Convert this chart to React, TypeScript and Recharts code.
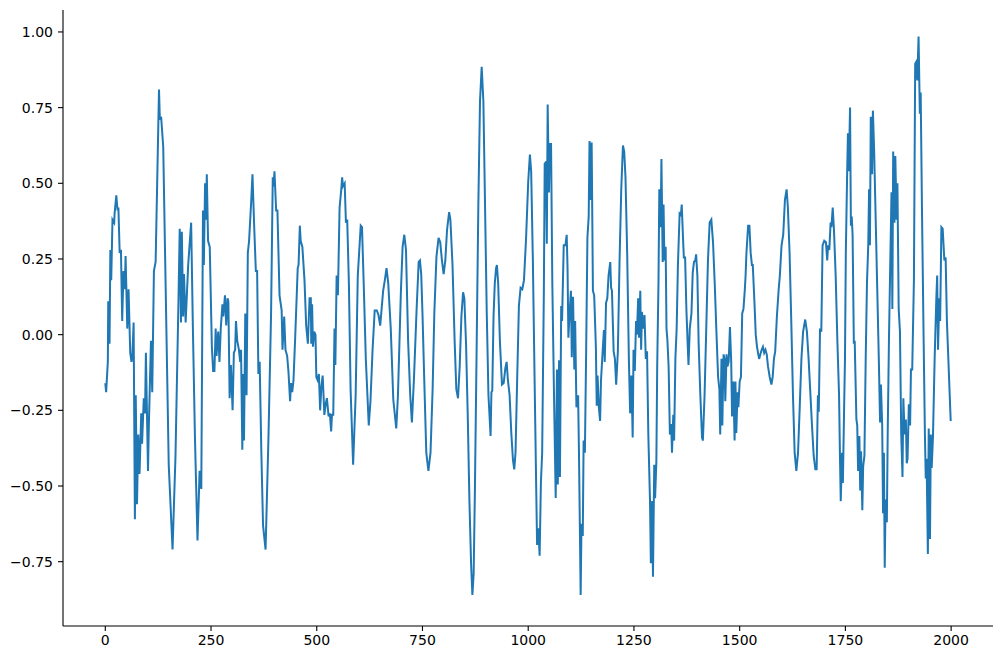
import React from "react";
import { LineChart, Line, XAxis, YAxis } from "recharts";

// [sample index, amplitude], one list per 250-sample span
const span0: [number, number][] = [
  [0, -0.16], [2, -0.19], [6, -0.09], [7, 0.11], [10, -0.03], [12, 0.28], [14, 0.18], [17, 0.38],
  [21, 0.37], [22, 0.4], [26, 0.46], [29, 0.41], [31, 0.42], [34, 0.27], [37, 0.28], [40, 0.045],
  [43, 0.21], [46, 0.15], [48, 0.26], [52, 0.02], [55, 0.15], [59, -0.06], [62, -0.09], [64, -0.07],
  [67, 0.04], [70, -0.61], [72, -0.2], [75, -0.56], [78, -0.33], [81, -0.46], [85, -0.26], [87, -0.36],
  [91, -0.21], [94, -0.26], [96, -0.06], [101, -0.45], [103, -0.3], [108, -0.02], [111, -0.19], [115, 0.21],
  [119, 0.24], [127, 0.81], [129, 0.71], [132, 0.72], [137, 0.62], [150, -0.43], [159, -0.71], [166, -0.4],
  [173, 0.11], [176, 0.35], [179, 0.04], [181, 0.34], [184, 0.06], [186, 0.2], [190, 0.04], [196, 0.23],
  [203, 0.37], [207, 0.03], [212, -0.34], [218, -0.68], [223, -0.45], [227, -0.51], [231, 0.41], [233, 0.23],
  [236, 0.5], [238, 0.38], [240, 0.53], [243, 0.31], [247, 0.29],
];

const span1: [number, number][] = [
  [252, -0.04], [255, -0.12], [258, -0.12], [261, 0.02], [263, -0.07], [267, 0.01], [270, -0.09], [273, 0.02],
  [277, 0.1], [279, 0.06], [283, 0.13], [286, 0.03], [289, 0.12], [291, 0.11], [294, -0.21], [297, -0.1],
  [301, -0.25], [304, -0.06], [307, -0.05], [309, 0.045], [312, -0.02], [316, -0.05], [319, -0.09], [321, -0.05],
  [324, -0.38], [326, -0.13], [328, -0.35], [331, 0.07], [334, -0.2], [337, 0.27], [340, 0.31], [345, 0.44],
  [348, 0.53], [352, 0.36], [356, 0.21], [359, 0.21], [362, -0.13], [365, -0.09], [369, -0.39], [373, -0.63],
  [379, -0.71], [386, -0.33], [392, 0.07], [396, 0.52], [398, 0.49], [400, 0.54], [404, 0.41], [407, 0.41],
  [412, 0.13], [417, 0.08], [419, -0.05], [423, 0.06], [426, -0.05], [430, -0.07], [433, -0.12], [437, -0.22],
  [439, -0.16], [442, -0.19], [445, -0.15], [449, -0.01], [455, 0.22], [457, 0.23], [460, 0.36], [462, 0.31],
  [466, 0.29], [471, 0.18], [475, 0.03], [479, -0.03], [483, 0.12], [486, 0.12], [487, -0.03], [489, 0.1],
  [491, -0.04], [494, 0.01], [497, 0.0],
];

const span2: [number, number][] = [
  [499, -0.14], [502, -0.15], [505, -0.13], [508, -0.25], [511, -0.17], [514, -0.135], [518, -0.265], [521, -0.23],
  [524, -0.21], [528, -0.27], [531, -0.26], [534, -0.32], [536, -0.265], [539, -0.265], [542, 0.02], [544, -0.1],
  [547, 0.195], [550, 0.13], [554, 0.42], [558, 0.48], [560, 0.52], [562, 0.49], [566, 0.5], [569, 0.37],
  [572, 0.38], [576, 0.17], [580, -0.18], [586, -0.43], [592, -0.2], [597, 0.195], [604, 0.36], [607, 0.355],
  [611, 0.17], [616, -0.08], [623, -0.3], [627, -0.22], [632, -0.05], [637, 0.08], [642, 0.08], [646, 0.065],
  [650, 0.03], [654, 0.095], [657, 0.145], [661, 0.18], [665, 0.22], [669, 0.17], [675, 0.02], [681, -0.215],
  [688, -0.31], [692, -0.2], [699, 0.145], [703, 0.29], [707, 0.33], [711, 0.28], [716, -0.02], [721, -0.2],
  [725, -0.29], [730, -0.14], [736, 0.08], [741, 0.24], [744, 0.245], [747, 0.2],
];

const span3: [number, number][] = [
  [750, 0.07], [754, -0.14], [759, -0.39], [764, -0.45], [769, -0.39], [774, -0.18], [778, 0.07], [783, 0.257],
  [788, 0.32], [792, 0.305], [796, 0.245], [800, 0.2], [804, 0.245], [808, 0.345], [813, 0.405], [816, 0.38],
  [821, 0.23], [826, -0.02], [830, -0.18], [834, -0.21], [838, -0.105], [842, 0.06], [846, 0.14], [849, 0.12],
  [853, -0.03], [857, -0.265], [861, -0.55], [865, -0.76], [868, -0.86], [871, -0.79], [874, -0.51], [878, -0.05],
  [882, 0.42], [886, 0.77], [890, 0.885], [894, 0.77], [898, 0.42], [902, 0.07], [906, -0.2], [909, -0.28],
  [911, -0.335], [913, -0.19], [915, -0.185], [918, 0.06], [921, 0.17], [924, 0.22], [926, 0.23], [929, 0.17],
  [933, -0.02], [938, -0.165], [942, -0.16], [946, -0.11], [949, -0.09], [952, -0.15], [956, -0.2], [960, -0.325],
  [964, -0.415], [967, -0.445], [970, -0.39], [974, -0.14], [978, 0.095], [982, 0.155], [986, 0.15], [990, 0.18],
  [995, 0.32],
];

const span4: [number, number][] = [
  [1000, 0.505], [1004, 0.595], [1007, 0.54], [1011, 0.245], [1015, -0.14], [1019, -0.515], [1021, -0.695], [1024, -0.64],
  [1027, -0.73], [1030, -0.49], [1033, -0.39], [1037, 0.145], [1039, 0.565], [1042, 0.57], [1044, 0.3], [1046, 0.76],
  [1049, 0.47], [1051, 0.63], [1054, 0.63], [1057, 0.17], [1061, -0.2], [1065, -0.54], [1068, -0.115], [1070, -0.495],
  [1073, -0.085], [1075, -0.47], [1078, 0.095], [1080, 0.045], [1084, 0.295], [1088, 0.295], [1091, 0.33], [1093, 0.22],
  [1095, -0.01], [1098, 0.075], [1101, 0.145], [1103, -0.075], [1106, 0.125], [1109, -0.115], [1111, 0.045], [1114, -0.24],
  [1118, -0.2], [1120, -0.39], [1122, -0.62], [1124, -0.86], [1126, -0.625], [1129, -0.665], [1131, -0.35], [1134, -0.39],
  [1137, -0.055], [1140, 0.32], [1143, 0.39], [1145, 0.64], [1148, 0.445], [1150, 0.635], [1153, 0.145], [1156, 0.13],
  [1160, -0.04], [1162, -0.235], [1164, -0.135], [1167, -0.24], [1170, -0.285], [1172, -0.155], [1175, -0.08], [1179, 0.015],
  [1181, -0.09], [1184, 0.105], [1187, 0.12], [1190, 0.195], [1194, 0.24], [1196, 0.155], [1198, 0.145], [1202, -0.055],
  [1205, -0.08], [1208, -0.165], [1212, -0.055], [1216, 0.245], [1220, 0.48], [1224, 0.625], [1227, 0.605], [1230, 0.52],
  [1234, 0.27], [1238, -0.08], [1241, -0.26], [1244, -0.135], [1247, -0.34], [1249, -0.05],
];

const span5: [number, number][] = [
  [1252, -0.12], [1255, 0.045], [1257, 0.0], [1260, 0.12], [1262, -0.01], [1265, 0.145], [1267, -0.05], [1269, 0.075],
  [1272, 0.02], [1275, 0.065], [1278, -0.08], [1281, -0.055], [1284, -0.33], [1288, -0.55], [1290, -0.755], [1293, -0.55],
  [1295, -0.8], [1298, -0.43], [1300, -0.54], [1303, -0.42], [1305, -0.105], [1308, 0.17], [1310, 0.48], [1313, 0.355],
  [1315, 0.58], [1318, 0.24], [1320, 0.43], [1322, 0.245], [1325, 0.29], [1327, 0.02], [1329, -0.015], [1332, -0.105],
  [1335, -0.33], [1338, -0.295], [1340, -0.39], [1343, -0.265], [1345, -0.35], [1348, -0.08], [1351, 0.02], [1354, 0.23],
  [1358, 0.4], [1361, 0.395], [1363, 0.43], [1366, 0.32], [1368, 0.255], [1371, 0.255], [1374, 0.085], [1377, -0.03],
  [1379, -0.1], [1382, 0.02], [1386, 0.07], [1389, 0.205], [1392, 0.24], [1395, 0.245], [1397, 0.265], [1400, 0.195],
  [1403, -0.03], [1407, -0.2], [1411, -0.34], [1413, -0.35], [1417, -0.2], [1421, 0.02], [1425, 0.245], [1429, 0.37],
  [1433, 0.38], [1437, 0.305], [1441, 0.17], [1445, 0.01], [1449, -0.14], [1452, -0.18], [1454, -0.33], [1457, -0.08],
  [1459, -0.3], [1462, -0.065], [1464, -0.08], [1466, -0.22], [1469, -0.065], [1471, -0.105], [1474, -0.09], [1477, 0.025],
  [1480, -0.09], [1482, -0.27], [1485, -0.155], [1488, -0.35], [1490, -0.155], [1492, -0.325], [1495, -0.19], [1497, -0.24],
  [1500, -0.155],
];

const span6: [number, number][] = [
  [1503, -0.14], [1506, 0.07], [1509, 0.085], [1512, 0.145], [1514, 0.195], [1516, 0.27], [1520, 0.36], [1523, 0.36],
  [1526, 0.27], [1529, 0.23], [1531, 0.23], [1535, 0.105], [1538, 0.0], [1541, -0.04], [1544, -0.065], [1546, -0.08],
  [1549, -0.065], [1552, -0.05], [1555, -0.04], [1558, -0.06], [1561, -0.05], [1564, -0.065], [1567, -0.105], [1571, -0.14],
  [1575, -0.165], [1578, -0.14], [1581, -0.08], [1584, -0.055], [1588, 0.06], [1592, 0.145], [1595, 0.195], [1599, 0.295],
  [1603, 0.33], [1607, 0.445], [1611, 0.48], [1614, 0.42], [1618, 0.27], [1622, 0.045], [1626, -0.2], [1630, -0.39],
  [1634, -0.45], [1638, -0.39], [1642, -0.24], [1646, -0.08], [1650, 0.01], [1655, 0.05], [1659, 0.01], [1663, -0.08],
  [1667, -0.19], [1671, -0.3], [1675, -0.4], [1679, -0.445], [1682, -0.445], [1685, -0.2], [1687, -0.255], [1690, 0.02],
  [1693, 0.01], [1696, 0.295], [1700, 0.31], [1704, 0.305], [1707, 0.245], [1709, 0.295], [1712, 0.28], [1715, 0.37],
  [1717, 0.355], [1720, 0.42], [1723, 0.345], [1727, 0.195], [1731, -0.02], [1735, -0.2], [1737, -0.39], [1739, -0.55],
  [1742, -0.39], [1744, -0.49], [1747, -0.24], [1749, -0.08],
];

const span7: [number, number][] = [
  [1751, 0.27], [1754, 0.52], [1756, 0.665], [1758, 0.54], [1761, 0.75], [1763, 0.36], [1765, 0.39], [1767, 0.33],
  [1770, -0.03], [1772, -0.02], [1776, -0.28], [1778, -0.3], [1780, -0.45], [1783, -0.335], [1785, -0.515], [1787, -0.385],
  [1790, -0.58], [1792, -0.435], [1795, -0.4], [1798, -0.08], [1801, 0.17], [1804, 0.295], [1806, 0.48], [1808, 0.295],
  [1810, 0.72], [1813, 0.53], [1815, 0.74], [1818, 0.605], [1821, 0.42], [1825, 0.17], [1829, -0.08], [1832, -0.29],
  [1834, -0.165], [1837, -0.3], [1839, -0.59], [1841, -0.39], [1843, -0.77], [1845, -0.545], [1848, -0.62], [1850, -0.33],
  [1853, -0.015], [1856, 0.23], [1859, 0.47], [1861, 0.085], [1863, 0.605], [1866, 0.37], [1868, 0.59], [1871, 0.38],
  [1873, 0.5], [1876, 0.085], [1879, 0.01], [1882, -0.33], [1885, -0.47], [1887, -0.21], [1890, -0.33], [1893, -0.28],
  [1895, -0.425], [1897, -0.41], [1900, -0.23], [1903, -0.3], [1905, -0.115], [1908, -0.115], [1912, 0.18], [1915, 0.895],
  [1917, 0.9], [1920, 0.84], [1923, 0.985], [1926, 0.73], [1928, 0.8], [1931, 0.42], [1935, -0.02], [1938, -0.33],
  [1940, -0.475], [1942, -0.41], [1945, -0.725], [1947, -0.31], [1950, -0.675], [1952, -0.33], [1954, -0.44], [1957, -0.34],
  [1961, -0.08], [1965, 0.12], [1967, 0.195], [1969, -0.05], [1972, 0.12], [1974, 0.045], [1977, 0.355], [1980, 0.35],
  [1984, 0.245], [1987, 0.255], [1990, 0.045], [1999, -0.285],
];

const xTicks = [0, 250, 500, 750, 1000, 1250, 1500, 1750, 2000];
const yTicks = [-0.75, -0.5, -0.25, 0, 0.25, 0.5, 0.75, 1.0];

const data = [...span0, ...span1, ...span2, ...span3, ...span4, ...span5, ...span6, ...span7].map(([t, v]) => ({ t, v }));

const tickStyle = { fill: "#000", fontSize: 14, fontFamily: "DejaVu Sans" };
const fmtY = (v: number) => (v < 0 ? "\u2212" : "") + Math.abs(v).toFixed(2);

export default function App() {
  return (
    <div style={{ position: "absolute", left: 0, top: 0, width: 1001, height: 659, background: "#fff" }}>
      <LineChart width={1001} height={659} data={data} margin={{ top: 10, right: 8, left: 0, bottom: 0 }}>
        <XAxis
          dataKey="t"
          type="number"
          domain={[-100, 2099]}
          ticks={xTicks}
          interval={0}
          allowDataOverflow
          height={33}
          tickSize={5}
          tickMargin={4}
          tick={tickStyle}
          axisLine={{ stroke: "#000", strokeWidth: 1.1 }}
          tickLine={{ stroke: "#000", strokeWidth: 1.1 }}
        />
        <YAxis
          type="number"
          domain={[-0.9625, 1.0725]}
          ticks={yTicks}
          interval={0}
          allowDataOverflow
          width={63}
          tickSize={5}
          tickMargin={5}
          tickFormatter={fmtY}
          tick={tickStyle}
          axisLine={{ stroke: "#000", strokeWidth: 1.1 }}
          tickLine={{ stroke: "#000", strokeWidth: 1.1 }}
        />
        <Line
          type="linear"
          dataKey="v"
          stroke="#1f77b4"
          strokeWidth={2}
          dot={false}
          isAnimationActive={false}
        />
      </LineChart>
    </div>
  );
}
